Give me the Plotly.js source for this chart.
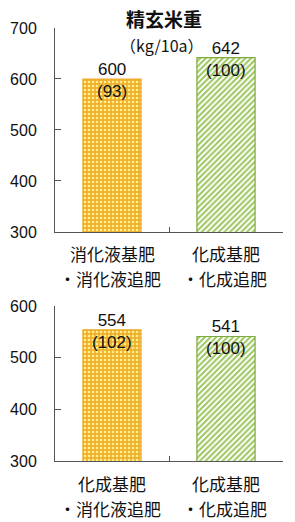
<!DOCTYPE html>
<html>
<head>
<meta charset="utf-8">
<script src="https://cdn.plot.ly/plotly-3.0.1.min.js"></script>
<style>html,body{margin:0;padding:0;background:#fff;}#chart{width:295px;height:522px;}</style>
</head>
<body>
<div id="chart"></div>
<script>
const topCategories = ["消化液基肥・消化液追肥", "化成基肥・化成追肥"];
const topValues = [600, 642];
const topIndex = ["(93)", "(100)"];
const bottomCategories = ["化成基肥・消化液追肥", "化成基肥・化成追肥"];
const bottomValues = [554, 541];
const bottomIndex = ["(102)", "(100)"];
const topTicks = [300, 400, 500, 600, 700];
const bottomTicks = [300, 400, 500, 600];
const titleText = "精玄米重";
const unitText = "（kg/10a）";

const FONT = "Noto Sans CJK JP, Liberation Sans, sans-serif";
const NUMFONT = "Liberation Sans, Noto Sans CJK JP, sans-serif";
// style per bar position (first = orange dotted, second = green hatched)
const barStyles = [
  {pattern: {fillmode: "replace", shape: ".", bgcolor: "#EEB02C", fgcolor: "#FFEE8C", size: 4, solidity: 0.35},
   line: {color: "#F0A828", width: 1.2}},
  {pattern: {fillmode: "replace", shape: "/", bgcolor: "#FFFFFF", fgcolor: "#9CC65E", size: 4, solidity: 0.5},
   line: {color: "#7CAA3C", width: 1.2}}
];

const traces = [];
const annotations = [];
function addPanel(cats, vals, idx, xa, ya) {
  cats.forEach((c, i) => {
    traces.push({
      type: "bar", x: [c], y: [vals[i]], xaxis: xa, yaxis: ya,
      marker: {color: barStyles[i].pattern.bgcolor, pattern: barStyles[i].pattern, line: barStyles[i].line},
      hoverinfo: "skip", showlegend: false
    });
    annotations.push({
      x: c, y: vals[i], xref: xa, yref: ya, text: vals[i] + "<br>" + idx[i],
      showarrow: false, yanchor: "middle", yshift: -1.5, font: {size: 17, color: "#111", family: NUMFONT}
    });
    const parts = c.split("・");
    const lines = [parts[0], "・" + parts[1]];
    lines.forEach((t, k) => annotations.push({
      x: c, y: 0, xref: xa, yref: ya + " domain", text: t, showarrow: false,
      yanchor: "middle", yshift: -22 - 25 * k, xshift: k ? -2 : 0,
      font: {size: 17, color: "#111", family: FONT}
    }));
  });
}
addPanel(topCategories, topValues, topIndex, "x", "y");
addPanel(bottomCategories, bottomValues, bottomIndex, "x2", "y2");

annotations.push({x: 0.48, y: 1, xref: "paper", yref: "paper", text: "<b>" + titleText + "</b>",
  showarrow: false, yanchor: "middle", yshift: 10, font: {size: 19, color: "#111", family: FONT}});
annotations.push({x: 0.47, y: 1, xref: "paper", yref: "paper", text: unitText,
  showarrow: false, yanchor: "middle", yshift: -17, font: {size: 16, color: "#111", family: FONT}});

const axisLine = "#555555";
const xCommon = {showline: true, linecolor: axisLine, linewidth: 1, ticks: "inside", tickson: "boundaries",
  ticklen: 5, tickcolor: axisLine, showgrid: false, showticklabels: false, fixedrange: true};
const yCommon = {showline: true, linecolor: axisLine, linewidth: 1, ticks: "inside", ticklen: 6, tickcolor: axisLine,
  showgrid: false, zeroline: false, tickfont: {size: 16, color: "#111", family: NUMFONT}, ticklabelstandoff: 14, fixedrange: true};

const layout = {
  width: 295, height: 522,
  margin: {l: 55, r: 12, t: 28, b: 61},
  paper_bgcolor: "#fff", plot_bgcolor: "#fff",
  barmode: "overlay",
  bargap: 0.49,
  xaxis: Object.assign({}, xCommon, {anchor: "y", domain: [0, 1], categoryorder: "array", categoryarray: topCategories}),
  yaxis: Object.assign({}, yCommon, {anchor: "x", domain: [0.529, 1], range: [300, 700], tickvals: topTicks}),
  xaxis2: Object.assign({}, xCommon, {anchor: "y2", domain: [0, 1], categoryorder: "array", categoryarray: bottomCategories}),
  yaxis2: Object.assign({}, yCommon, {anchor: "x2", domain: [0, 0.358], range: [300, 600], tickvals: bottomTicks}),
  annotations: annotations
};

Plotly.newPlot("chart", traces, layout, {displayModeBar: false, staticPlot: true});
</script>
</body>
</html>
